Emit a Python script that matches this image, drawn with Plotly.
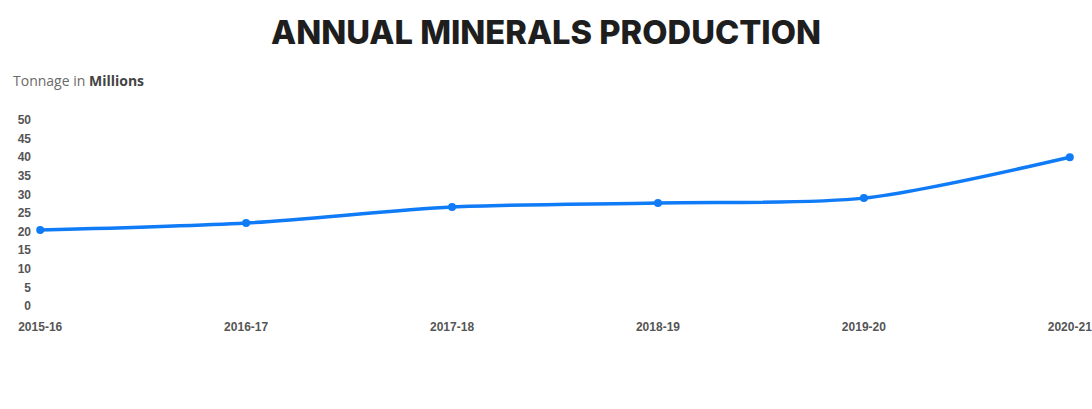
import plotly.graph_objects as go

years = ["2015-16", "2016-17", "2017-18", "2018-19", "2019-20", "2020-21"]
tonnage = [20.4, 22.3, 26.6, 27.7, 29.0, 40.0]
y_ticks = [0, 5, 10, 15, 20, 25, 30, 35, 40, 45, 50]

xpos = list(range(len(years)))

fig = go.Figure()
fig.add_trace(go.Scatter(
    x=xpos, y=tonnage, mode="lines+markers",
    line=dict(color="#0f7bf7", width=3.5, shape="spline", smoothing=0.8),
    marker=dict(color="#0f7bf7", size=8),
    cliponaxis=False,
    hoverinfo="x+y", showlegend=False,
))

tick_font = dict(family="Liberation Sans Narrow, Arial Narrow, Liberation Sans, Arial", size=12, color="#555555", weight="bold")

fig.update_layout(
    width=1092, height=409,
    margin=dict(l=40, r=22, t=120, b=103, autoexpand=False),
    paper_bgcolor="white", plot_bgcolor="white",
    title=dict(text="ANNUAL MINERALS PRODUCTION", x=0.5, xanchor="center", y=0.92, yanchor="middle",
               font=dict(family="Inter, Montserrat, Arial Black, sans-serif", size=32.7, color="#1e1e1e", weight=800)),
    xaxis=dict(range=[-0.001, len(years) - 1 + 0.001], tickvals=xpos, ticktext=years, showgrid=False, zeroline=False,
               showline=False, ticks="", tickfont=tick_font, ticklabelstandoff=12, ticklabeloverflow="allow",
               automargin=False, fixedrange=True),
    yaxis=dict(range=[0, 50], tickvals=y_ticks, showgrid=False, zeroline=False, showline=False, ticks="",
               tickfont=tick_font, ticklabelstandoff=8, automargin=False, fixedrange=True),
    annotations=[dict(text="Tonnage in <b style='color:#444'>Millions</b>", xref="paper", yref="paper",
                      x=-0.028, y=1.0, xanchor="left", yanchor="bottom", yshift=28, showarrow=False,
                      font=dict(family="Open Sans, sans-serif", size=14, color="#6a6a6a"))],
)

fig.write_html("out.html")
